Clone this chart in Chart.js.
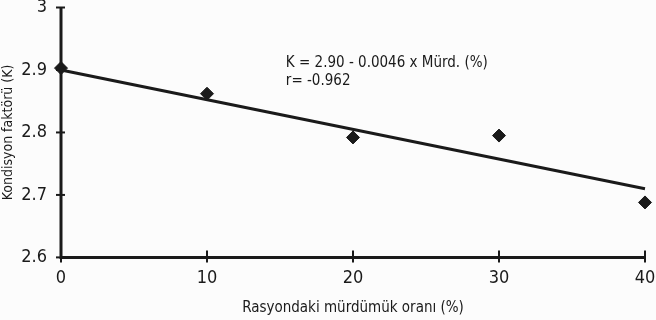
<!DOCTYPE html>
<html>
<head>
<meta charset="utf-8">
<script src="https://cdn.jsdelivr.net/npm/chart.js@4/dist/chart.umd.min.js"></script>
<style>
  html, body { margin: 0; padding: 0; background: #fcfcfc; }
  #wrap { width: 656px; height: 320px; }
</style>
</head>
<body>
<div id="wrap"><canvas id="graph"></canvas></div>
<script>
// Mürdümük oranı (%) ve kondisyon faktörü
const oranlar = [0, 10, 20, 30, 40];
const kondisyon = [2.903, 2.862, 2.792, 2.795, 2.688];
// regresyon doğrusu uçları
const fitX = [0, 40];
const fitY = [2.90, 2.71];
const yTicks = [2.6, 2.7, 2.8, 2.9, 3];
const xTicks = [0, 10, 20, 30, 40];
const denklem = ["K = 2.90 - 0.0046 x Mürd. (%)", "r= -0.962"];

const ink = "#1a1a1a";
const fam = "'Liberation Sans Narrow', 'DejaVu Sans Condensed', Arial, sans-serif";

// axis lines and ticks that cross the axis
const axesPlugin = {
  id: "axes",
  afterDatasetsDraw(chart) {
    const { ctx, chartArea: a, scales: { x, y } } = chart;
    ctx.save();
    ctx.strokeStyle = ink;
    ctx.lineWidth = 3;
    ctx.beginPath();
    ctx.moveTo(a.left, a.top);
    ctx.lineTo(a.left, a.bottom);
    ctx.lineTo(a.right, a.bottom);
    ctx.stroke();
    ctx.lineWidth = 2;
    xTicks.forEach(v => {
      const px = x.getPixelForValue(v);
      ctx.beginPath();
      ctx.moveTo(px, a.bottom - 7);
      ctx.lineTo(px, a.bottom + 5);
      ctx.stroke();
    });
    yTicks.forEach(v => {
      const py = y.getPixelForValue(v);
      ctx.beginPath();
      ctx.moveTo(a.left - 5, py);
      ctx.lineTo(a.left + 4, py);
      ctx.stroke();
    });
    // equation text
    ctx.fillStyle = ink;
    ctx.font = "15px " + fam;
    ctx.textBaseline = "alphabetic";
    const tx = x.getPixelForValue(15.4);
    const ty = y.getPixelForValue(2.905);
    ctx.fillText(denklem[0], tx, ty);
    ctx.fillText(denklem[1], tx, ty + 18);
    ctx.restore();
  }
};

new Chart(document.getElementById("graph"), {
  type: "scatter",
  data: {
    datasets: [
      {
        label: "Regresyon",
        type: "line",
        data: fitX.map((v, i) => ({ x: v, y: fitY[i] })),
        borderColor: ink,
        borderWidth: 3,
        pointRadius: 0,
        fill: false
      },
      {
        label: "K",
        data: oranlar.map((v, i) => ({ x: v, y: kondisyon[i] })),
        pointStyle: "rectRot",
        pointRadius: 6.5,
        backgroundColor: ink,
        borderColor: ink,
        borderWidth: 1
      }
    ]
  },
  options: {
    responsive: true,
    maintainAspectRatio: false,
    animation: false,
    clip: false,
    layout: { padding: { top: 0, right: 11, left: 0, bottom: 3 } },
    plugins: { legend: { display: false }, tooltip: { enabled: false } },
    scales: {
      x: {
        type: "linear",
        min: 0,
        max: 40,
        afterBuildTicks: s => { s.ticks = xTicks.map(v => ({ value: v })); },
        afterFit: s => { s.paddingRight = 0; s.paddingLeft = 0; },
        grid: { display: false, drawTicks: false },
        border: { display: false },
        ticks: { color: ink, padding: 10, font: { family: fam, size: 18 } },
        title: {
          display: true,
          text: "Rasyondaki mürdümük oranı (%)",
          color: ink,
          padding: { top: 0, bottom: 0 },
          font: { family: fam, size: 15 }
        }
      },
      y: {
        min: 2.6,
        max: 3,
        afterBuildTicks: s => { s.ticks = yTicks.map(v => ({ value: v })); },
        afterFit: s => { s.width = 61; s.paddingTop = 0; s.paddingBottom = 0; },
        grid: { display: false, drawTicks: false },
        border: { display: false },
        ticks: {
          color: ink,
          padding: 14,
          font: { family: fam, size: 18 },
          callback: v => (v === 3 ? "3" : v.toFixed(1))
        },
        title: {
          display: true,
          text: "Kondisyon faktörü (K)",
          color: ink,
          padding: { top: 0, bottom: 4 },
          font: { family: fam, size: 14 }
        }
      }
    }
  },
  plugins: [axesPlugin]
});
</script>
</body>
</html>
